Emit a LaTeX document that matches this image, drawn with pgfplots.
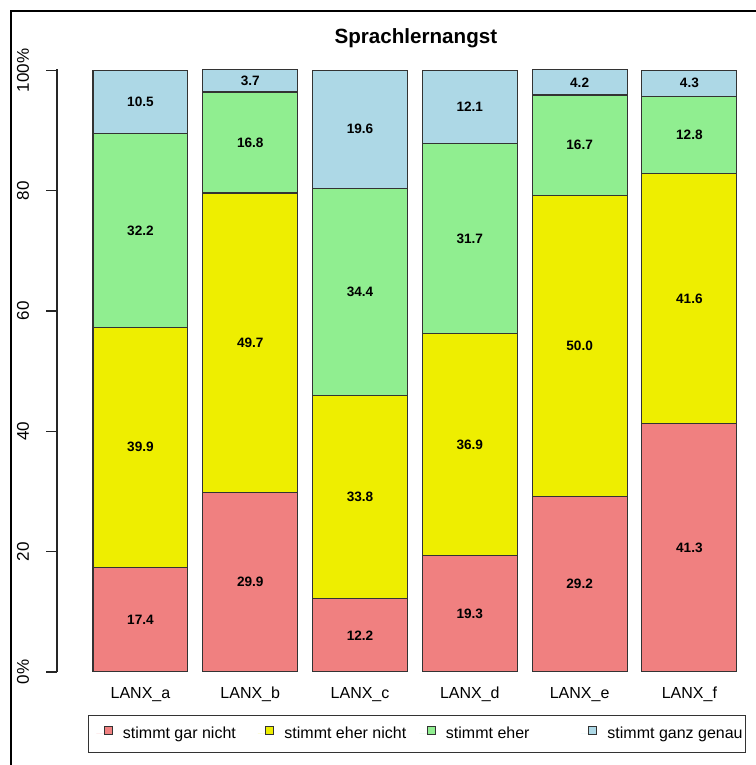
\documentclass[border=0pt]{standalone}
\usepackage{fontspec}
\setmainfont{Liberation Sans}
\usepackage{pgfplots}
\usepackage{pgfplotstable}
\pgfplotsset{compat=1.18}
\definecolor{rgar}{HTML}{F08080}
\definecolor{yeher}{HTML}{EEEE00}
\definecolor{geher}{HTML}{90EE90}
\definecolor{bgenau}{HTML}{ADD8E6}

% values in percent, bottom to top
\pgfplotstableread{
x gar ehernicht eher genau
0 17.4 39.9 32.2 10.5
1 29.9 49.7 16.8 3.7
2 12.2 33.8 34.4 19.6
3 19.3 36.9 31.7 12.1
4 29.2 50.0 16.7 4.2
5 41.3 41.6 12.8 4.3
}\lanx

\begin{document}
\begin{tikzpicture}
\begin{axis}[
    at={(28.5pt,46.5pt)}, anchor=south west,
    scale only axis, width=346.4pt, height=301.3pt,
    xmin=-0.76, xmax=5.55, ymin=0, ymax=100.15,
    enlargelimits=false,
    ybar stacked, bar width=0.865,
    axis lines*=left,
    x axis line style={draw=none},
    y axis line style={black!85, line width=0.6pt},
    xtick={0,...,5},
    xticklabels={LANX\_a,LANX\_b,LANX\_c,LANX\_d,LANX\_e,LANX\_f},
    xtick style={draw=none},
    ytick={0,20,40,60,80,100},
    yticklabels={0\%,20,40,60,80,100\%},
    ytick style={black!85, line width=0.6pt},
    tick align=outside, major tick length=5.5pt,
    tick label style={font=\fontsize{8}{9.6}\selectfont},
    xticklabel style={anchor=north, yshift=1.5pt},
    yticklabel style={xshift=-5pt, rotate=90, anchor=south, font=\fontsize{8.5}{10}\selectfont},
    title={Sprachlernangst},
    title style={font=\bfseries\fontsize{10.3}{12}\selectfont, at={(axis description cs:0.518,1.023)}, anchor=base},
    every axis plot/.append style={draw=black!80, line width=0.55pt},
    point meta=explicit,
    nodes near coords={\pgfmathprintnumber[fixed,fixed zerofill,precision=1]{\pgfplotspointmeta}},
    nodes near coords style={font=\bfseries\fontsize{6.8}{8}\selectfont, anchor=center, text=black,
        /pgf/number format/assume math mode=true},
    legend columns=4,
    legend style={at={(axis description cs:0.0447,-0.0714)}, anchor=north west,
        draw=black!80, line width=0.5pt, inner xsep=4pt, inner ysep=4pt,
        column sep=0pt, font=\fontsize{8}{9.6}\selectfont,
        nodes={inner xsep=0pt, inner ysep=1.5pt}},
    legend image code/.code={
        \path[draw=none] (0pt,0pt) -- (8pt,0pt);
        \draw[#1, draw=black!80, line width=0.5pt] (4pt,-0.3pt) rectangle (8pt,3.7pt);},
]
\addplot[fill=rgar] table[x=x, y=gar, meta=gar] {\lanx};
\addplot[fill=yeher] table[x=x, y=ehernicht, meta=ehernicht] {\lanx};
\addplot[fill=geher] table[x=x, y=eher, meta=eher] {\lanx};
\addplot[fill=bgenau] table[x=x, y=genau, meta=genau] {\lanx};
\legend{\makebox[72.5pt][l]{\hspace{5pt}stimmt gar nicht},
        \makebox[72.5pt][l]{\hspace{5pt}stimmt eher nicht},
        \makebox[72.5pt][l]{\hspace{5pt}stimmt eher},
        \makebox[70pt][l]{\hspace{5pt}stimmt ganz genau}}
\end{axis}
\draw[line width=1pt] (5.25pt,-10pt) -- (5.25pt,377pt) -- (400pt,377pt);
\pgfresetboundingbox
\useasboundingbox (0pt,0pt) rectangle (377.5pt,382.5pt);
\end{tikzpicture}
\end{document}
